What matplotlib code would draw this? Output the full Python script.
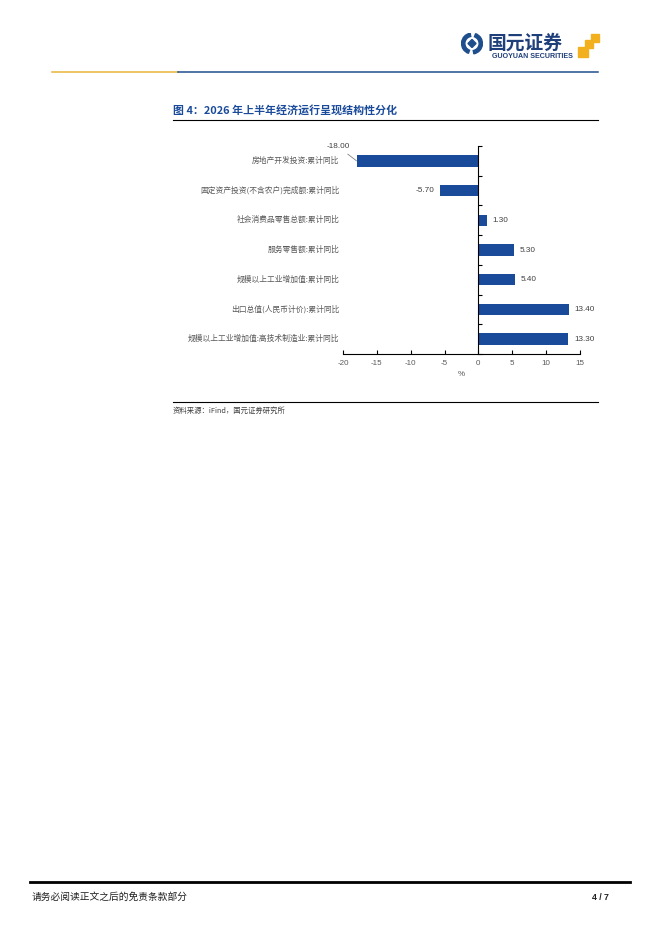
import numpy as np
import matplotlib
matplotlib.use('Agg')
from matplotlib import pyplot as plt
from matplotlib.lines import Line2D
from matplotlib.patches import Rectangle, Wedge
from matplotlib.transforms import Affine2D

plt.rcParams['font.family'] = ['Liberation Sans', 'Noto Sans CJK SC', 'DejaVu Sans']
plt.rcParams['axes.unicode_minus'] = False

categories = ['房地产开发投资:累计同比',
              '固定资产投资(不含农户)完成额:累计同比',
              '社会消费品零售总额:累计同比',
              '服务零售额:累计同比',
              '规模以上工业增加值:累计同比',
              '出口总值(人民币计价):累计同比',
              '规模以上工业增加值:高技术制造业:累计同比']
values = [-18.00, -5.70, 1.30, 5.30, 5.40, 13.40, 13.30]
x_ticks = [-20, -15, -10, -5, 0, 5, 10, 15]

W, H = 662, 936
blue = '#1A4B9B'
cjk = ['Noto Sans CJK SC', 'DejaVu Sans']


def fx(x):
    return x / W


def fy(y):
    return 1 - y / H


fig = plt.figure(figsize=(W / 100, H / 100), dpi=100)

# page header
fig.add_artist(Line2D([fx(52), fx(178)], [fy(72), fy(72)], color='#E8B33A', lw=1.1))
fig.add_artist(Line2D([fx(178), fx(598)], [fy(72), fy(72)], color='#1F4E8C', lw=1.1))

logo = fig.add_axes([fx(461), fy(54.5), fx(22), 22 / H])
logo.set_xlim(-1, 1)
logo.set_ylim(-1, 1)
logo.set_aspect('equal')
logo.axis('off')
logo.add_patch(Wedge((0, 0), 0.95, 100, 250, width=0.3, color='#1F4E8C'))
logo.add_patch(Wedge((0, 0), 0.95, 280, 70, width=0.3, color='#1F4E8C'))
logo.add_patch(Rectangle((-0.26, -0.26), 0.52, 0.52, color='#1F4E8C',
                         transform=Affine2D().rotate_deg(45) + logo.transData))
fig.text(fx(488), fy(48.5), '国元证券', family=cjk, fontsize=13.5, fontweight='bold',
         color='#1F3F7A', va='baseline', ha='left')
fig.text(fx(492), fy(57), 'GUOYUAN SECURITIES', fontsize=5.1, fontweight='bold',
         color='#1F3F7A', va='center', ha='left')
for (sx, sy, s) in [(591, 34, 8), (585, 40, 8), (578, 47, 9.5)]:
    fig.add_artist(Rectangle((fx(sx), fy(sy + s)), fx(s), s / H, color='#F2B01E'))

# title
fig.text(fx(173), fy(110), '图 4：2026 年上半年经济运行呈现结构性分化', family=cjk,
         fontsize=7.9, fontweight='bold', color=blue, va='center', ha='left')
fig.add_artist(Line2D([fx(173), fx(598)], [fy(120), fy(120)], color='black', lw=0.8))

# chart
ax = fig.add_axes([fx(343), fy(354), fx(580 - 343), (354 - 146) / H])
pos = np.arange(len(categories))
ax.barh(pos, values, height=0.38, color=blue)
ax.set_ylim(len(categories) - 0.5, -0.5)
ax.set_xlim(-20, 15)
ax.set_xticks(x_ticks)
ax.set_yticks(np.arange(len(categories) + 1) - 0.5)
ax.set_yticklabels([])
ax.spines['left'].set_position(('data', 0))
ax.spines['top'].set_visible(False)
ax.spines['right'].set_visible(False)
for s in ['left', 'bottom']:
    ax.spines[s].set_linewidth(0.8)
    ax.spines[s].set_color('black')
ax.tick_params(axis='y', direction='in', length=3, width=0.8)
ax.tick_params(axis='x', direction='in', length=3, width=0.8, labelsize=5.8,
               labelcolor='#595959', pad=4)
ax.set_xlabel('%', fontsize=5.8, color='#595959', labelpad=3)

for p, name in zip(pos, categories):
    ax.text(-0.015, p, name, transform=ax.get_yaxis_transform(), family=cjk,
            fontsize=5.6, color='#595959', ha='right', va='center')

for p, v in zip(pos, values):
    if v == min(values):
        ax.annotate(f'{v:.2f}', xy=(v, p), xytext=(-13, 10), textcoords='offset points',
                    fontsize=5.9, color='#404040', ha='center', va='center',
                    arrowprops=dict(arrowstyle='-', color='#808080', lw=0.6, shrinkA=1, shrinkB=0))
    elif v < 0:
        ax.annotate(f'{v:.2f}', xy=(v, p), xytext=(-4, 0), textcoords='offset points',
                    fontsize=5.9, color='#404040', ha='right', va='center')
    else:
        ax.annotate(f'{v:.2f}', xy=(v, p), xytext=(4, 0), textcoords='offset points',
                    fontsize=5.9, color='#404040', ha='left', va='center')

# source
fig.add_artist(Line2D([fx(173), fx(598)], [fy(402), fy(402)], color='black', lw=0.8))
fig.text(fx(173), fy(411), '资料来源：iFind，国元证券研究所', family=cjk,
         fontsize=5.3, color='#404040', va='center', ha='left')

# footer
fig.add_artist(Line2D([fx(30), fx(630)], [fy(882), fy(882)], color='black', lw=2))
fig.text(fx(32), fy(897), '请务必阅读正文之后的免责条款部分', family=cjk,
         fontsize=7, color='#202020', va='center', ha='left')
fig.text(fx(609), fy(897), '4 / 7', fontsize=6.3, fontweight='bold', color='#202020',
         va='center', ha='right')

fig.savefig('out.png', dpi=100)
plt.close(fig)
